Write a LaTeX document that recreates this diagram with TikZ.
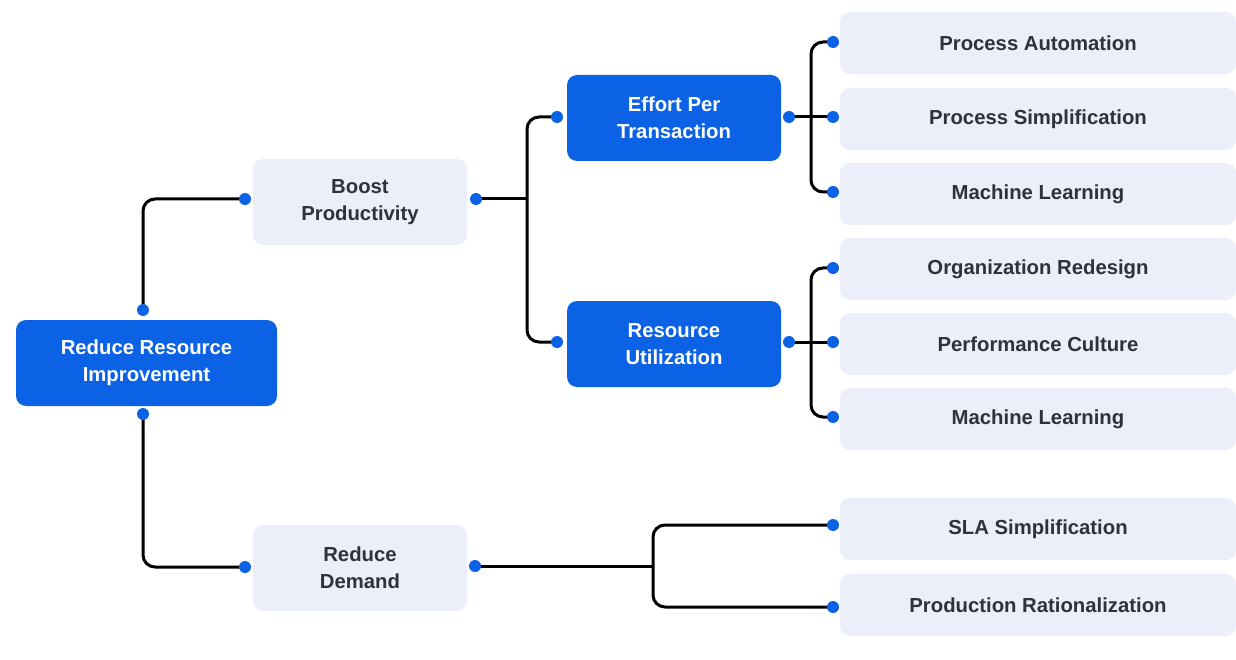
\documentclass[tikz,border=0pt]{standalone}
\usepackage{fontspec}
\setmainfont{Liberation Sans}
\usetikzlibrary{calc}
\definecolor{mainblue}{HTML}{0B62E4}
\definecolor{lightbox}{HTML}{ECEFF9}
\definecolor{darktext}{HTML}{2E323D}
\pgfdeclarelayer{bg}
\pgfsetlayers{bg,main}
\tikzset{
  bluebox/.style={draw=none, fill=mainblue, rounded corners=10pt, text=white,
    minimum width=#1, minimum height=86pt, align=center, inner sep=0pt,
    font=\fontsize{20.3}{27}\selectfont\bfseries},
  greybox/.style={draw=none, fill=lightbox, rounded corners=10pt, text=darktext,
    minimum width=#1, minimum height=86pt, align=center, inner sep=0pt,
    font=\fontsize{20.3}{27}\selectfont\bfseries},
  leafbox/.style={draw=none, fill=lightbox, rounded corners=10pt, text=darktext,
    minimum width=396pt, minimum height=62pt, align=center, inner sep=0pt,
    font=\fontsize{20.3}{27}\selectfont\bfseries},
  dot/.style={circle, fill=mainblue, draw=none, minimum size=12pt, inner sep=0pt},
  conn/.style={draw=black, line width=3pt, rounded corners=12pt}
}
\begin{document}
\begin{tikzpicture}[x=1pt,y=-1pt]
\useasboundingbox (0,0) rectangle (1236,660);
% boxes
\node[bluebox=261pt] (root) at (146.5,363) {Reduce Resource\\Improvement};
\node[greybox=214pt] (boost) at (360,202) {Boost\\Productivity};
\node[greybox=214pt] (demand) at (360,568) {Reduce\\Demand};
\node[bluebox=214pt] (effort) at (674,118) {Effort Per\\Transaction};
\node[bluebox=214pt] (resutil) at (674,344) {Resource\\Utilization};
\node[leafbox] (l1) at (1038,43) {Process Automation};
\node[leafbox] (l2) at (1038,119) {Process Simplification};
\node[leafbox] (l3) at (1038,194) {Machine Learning};
\node[leafbox] (l4) at (1038,269) {Organization Redesign};
\node[leafbox] (l5) at (1038,344) {Performance Culture};
\node[leafbox] (l6) at (1038,419) {Machine Learning};
\node[leafbox] (l7) at (1038,529) {SLA Simplification};
\node[leafbox] (l8) at (1038,605) {Production Rationalization};
% dots
\node[dot] (rt) at (143,310) {};
\node[dot] (rb) at (143,414) {};
\node[dot] (bl) at (245,199) {};
\node[dot] (br) at (476,199) {};
\node[dot] (dl) at (245,567) {};
\node[dot] (dr) at (475,566) {};
\node[dot] (el) at (557,117) {};
\node[dot] (er) at (789,117) {};
\node[dot] (ul) at (557,342) {};
\node[dot] (ur) at (789,342) {};
\node[dot] (d1) at (833,42) {};
\node[dot] (d2) at (833,117) {};
\node[dot] (d3) at (833,192) {};
\node[dot] (d4) at (833,268) {};
\node[dot] (d5) at (833,342) {};
\node[dot] (d6) at (833,417) {};
\node[dot] (d7) at (833,525) {};
\node[dot] (d8) at (833,607) {};
% junctions
\coordinate (j1) at (527,199);
\coordinate (j2) at (811,117);
\coordinate (j3) at (811,342);
\coordinate (j4) at (653,566);
\begin{pgfonlayer}{bg}
\draw[conn] (rt.center) |- (bl.center);
\draw[conn] (rb.center) |- (dl.center);
\draw[conn] (br.center) -- (j1);
\draw[conn] (el.center) -| (j1) |- (ul.center);
\draw[conn] (er.center) -- (d2.center);
\draw[conn] (d1.center) -| (j2) |- (d3.center);
\draw[conn] (ur.center) -- (d5.center);
\draw[conn] (d4.center) -| (j3) |- (d6.center);
\draw[conn] (dr.center) -- (j4);
\draw[conn] (d7.center) -| (j4) |- (d8.center);
\end{pgfonlayer}
\end{tikzpicture}
\end{document}
